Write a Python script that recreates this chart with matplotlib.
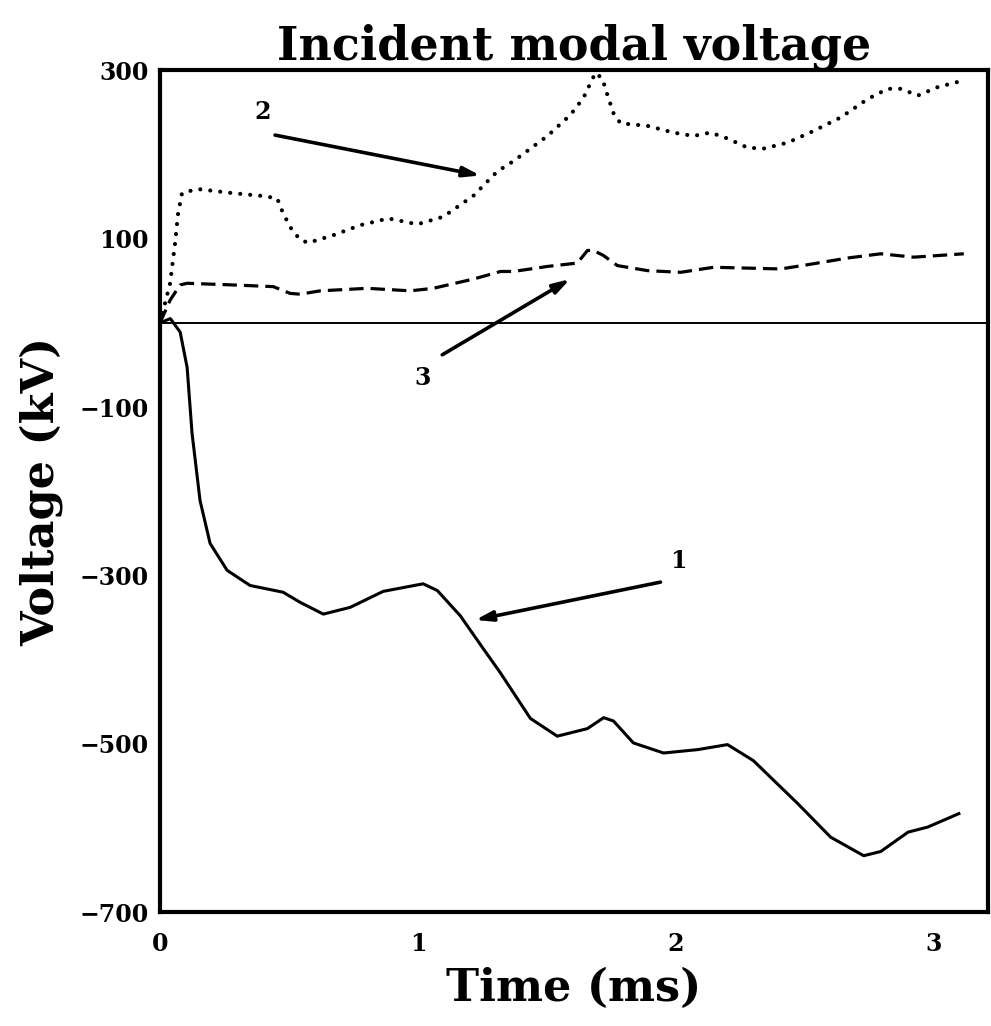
import numpy as np
from matplotlib import pyplot as plt

# curve 1 (solid)
t1 = [0, 0.04, 0.078, 0.105, 0.124, 0.155, 0.194, 0.26, 0.349, 0.477, 0.543, 0.633, 0.737,
      0.865, 1.02, 1.075, 1.164, 1.253, 1.32, 1.436, 1.54, 1.657, 1.72, 1.758, 1.835, 1.952,
      2.084, 2.2, 2.3, 2.472, 2.6, 2.728, 2.794, 2.9, 2.976, 3.097]
v1 = [0, 5, -11, -53, -131, -211, -262, -294, -312, -320, -332, -346, -338,
      -319, -310, -318, -348, -387, -416, -470, -491, -482, -469, -473, -499, -511,
      -507, -501, -520, -571, -611, -633, -628, -605, -599, -583]

# curve 2 (dotted)
t2 = [0, 0.039, 0.058, 0.07, 0.085, 0.144, 0.283, 0.388, 0.454, 0.477, 0.512, 0.543, 0.574,
      0.671, 0.776, 0.885, 0.951, 0.997, 1.098, 1.215, 1.308, 1.37, 1.502, 1.591, 1.641,
      1.688, 1.715, 1.735, 1.758, 1.785, 1.89, 1.99, 2.068, 2.134, 2.2, 2.278, 2.34,
      2.433, 2.534, 2.639, 2.744, 2.821, 2.872, 2.938, 3.015, 3.116]
v2 = [0, 47, 94, 130, 154, 159, 154, 151, 148, 130, 110, 99, 95,
      104, 116, 124, 120, 117, 126, 151, 180, 192, 222, 247, 267,
      297, 290, 270, 249, 237, 234, 226, 222, 226, 219, 208, 207,
      214, 228, 244, 266, 278, 278, 270, 280, 288]

# curve 3 (dashed)
t3 = [0, 0.039, 0.078, 0.105, 0.283, 0.439, 0.504, 0.543, 0.621, 0.803, 0.97, 1.059, 1.215,
      1.32, 1.37, 1.502, 1.618, 1.657, 1.68, 1.719, 1.773, 1.89, 2.018, 2.146, 2.278, 2.406,
      2.51, 2.666, 2.794, 2.922, 3.116]
v3 = [0, 27, 45, 47, 45, 43, 35, 34, 38, 41, 38, 41, 52,
      61, 61, 67, 71, 86, 86, 80, 68, 62, 60, 66, 65, 64,
      69, 77, 82, 78, 82]

yticks = [300, 100, -100, -300, -500, -700]
xticks = [0, 1, 2, 3]

plt.rcParams['font.family'] = 'DejaVu Serif'
plt.rcParams['font.weight'] = 'bold'

fig = plt.figure(figsize=(9.91, 10.26), dpi=100)
ax = fig.add_axes([0.1615, 0.111, 0.8355, 0.8205])

ax.axhline(0, color='k', lw=1.4)
ax.plot(t1, v1, color='k', lw=2.2, solid_joinstyle='round')
ax.plot(t2, v2, color='k', lw=3.0, linestyle=(0, (0.01, 2.4)), dash_capstyle='round')
ax.plot(t3, v3, color='k', lw=2.3, linestyle=(0, (4.5, 2.2)))

arrow = dict(arrowstyle='-|>,head_length=1.0,head_width=0.3', color='k', lw=2.6,
             shrinkA=0, shrinkB=0)
ax.annotate('', xy=(1.242, 175), xytext=(0.446, 223), arrowprops=arrow)
ax.text(0.397, 250, '2', ha='center', va='center', fontsize=17, fontweight='bold')
ax.annotate('', xy=(1.59, 52), xytext=(1.094, -38), arrowprops=arrow)
ax.text(1.017, -66, '3', ha='center', va='center', fontsize=17, fontweight='bold')
ax.annotate('', xy=(1.222, -353), xytext=(1.94, -308), arrowprops=arrow)
ax.text(2.01, -283, '1', ha='center', va='center', fontsize=17, fontweight='bold')

ax.set_xlim(0, 3.21)
ax.set_ylim(-700, 300)
ax.set_xticks(xticks)
ax.set_yticks(yticks)
ax.set_xticklabels([str(x) for x in xticks])
ax.set_yticklabels([str(y).replace('-', '\u2212') for y in yticks])
ax.tick_params(length=0, labelsize=17)
ax.tick_params(axis='x', pad=14)
ax.tick_params(axis='y', pad=8)
for s in ax.spines.values():
    s.set_linewidth(3)

ax.set_title('Incident modal voltage', fontsize=33, fontweight='bold', pad=8)
ax.set_xlabel('Time (ms)', fontsize=32, fontweight='bold', labelpad=8)
ax.set_ylabel('Voltage (kV)', fontsize=32, fontweight='bold', labelpad=12)

plt.savefig('out.png', dpi=100)
